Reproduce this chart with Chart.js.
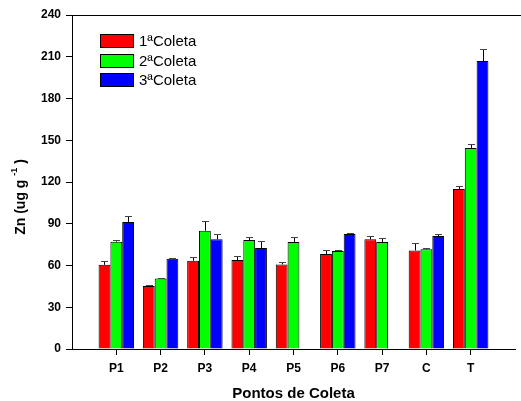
<!DOCTYPE html>
<html>
<head>
<meta charset="utf-8">
<script src="https://cdn.jsdelivr.net/npm/chart.js@4/dist/chart.umd.min.js"></script>
<style>
  html, body { margin: 0; padding: 0; background: #fff; }
  canvas { display: block; }
</style>
</head>
<body>
<canvas id="c" width="521" height="401"></canvas>
<script>
// Sampling points and the three collection campaigns (Zn, ug/g)
const categories = ['P1', 'P2', 'P3', 'P4', 'P5', 'P6', 'P7', 'C', 'T'];
const seriesNames = ['1ªColeta', '2ªColeta', '3ªColeta'];
const coleta1 = [60.5, 45.3, 63.4, 64.0, 60.8, 68.3, 78.8, 70.8, 115.0];
const coleta2 = [77.1, 50.7, 85.0, 78.3, 76.9, 70.4, 76.9, 71.6, 144.5];
const coleta3 = [91.3, 64.9, 78.8, 72.6, null, 82.6, null, 81.2, 206.9];
// Standard deviations (upper error bars)
const erro1 = [2.9, 0.7, 2.4, 2.9, 1.7, 2.6, 2.4, 5.3, 2.2];
const erro2 = [1.5, 0.5, 6.7, 2.2, 3.3, 1.0, 2.9, 1.0, 2.9];
const erro3 = [4.3, 0.4, 3.9, 5.0, null, 0.7, null, 1.4, 8.6];
const yTicks = [0, 30, 60, 90, 120, 150, 180, 210, 240];
const colors = ['#ff0000', '#00ff00', '#0000ff'];

const FONT = '"Liberation Sans", Arial, sans-serif';

// Empty slots at both ends so the groups sit on whole-number positions 1..9
const labels = [''].concat(categories, ['']);
const pad = a => [null].concat(a, [null]);

const values = [coleta1, coleta2, coleta3];
const errors = [erro1, erro2, erro3];

const datasets = values.map((v, i) => ({
  label: seriesNames[i],
  data: pad(v),
  errors: pad(errors[i]),
  backgroundColor: colors[i],
  borderColor: '#000',
  borderWidth: 1,
  borderSkipped: 'bottom',
  categoryPercentage: 0.8,
  barPercentage: 1.0
}));

// Upper error bars with small caps
const errorBars = {
  id: 'errorBars',
  afterDatasetsDraw(chart) {
    const ctx = chart.ctx;
    const y = chart.scales.y;
    chart.data.datasets.forEach((ds, di) => {
      const meta = chart.getDatasetMeta(di);
      meta.data.forEach((bar, i) => {
        const v = ds.data[i], e = ds.errors[i];
        if (v == null || e == null) return;
        const x = Math.round(bar.x) + 0.5;
        const y0 = y.getPixelForValue(v);
        const y1 = Math.round(y.getPixelForValue(v + e)) + 0.5;
        ctx.save();
        ctx.strokeStyle = '#000';
        ctx.lineWidth = 1;
        ctx.beginPath();
        ctx.moveTo(x, y0);
        ctx.lineTo(x, y1);
        ctx.stroke();
        ctx.strokeStyle = '#444';
        ctx.beginPath();
        ctx.moveTo(x - 3.5, y1);
        ctx.lineTo(x + 3.5, y1);
        ctx.stroke();
        ctx.restore();
      });
    });
  }
};

// Frame top line, axis titles and the legend box
const decorations = {
  id: 'decorations',
  afterDraw(chart) {
    const ctx = chart.ctx;
    const a = chart.chartArea;
    ctx.save();
    // top frame line
    ctx.strokeStyle = '#000';
    ctx.lineWidth = 1;
    ctx.beginPath();
    ctx.moveTo(a.left, Math.round(a.top) + 0.5);
    ctx.lineTo(chart.width, Math.round(a.top) + 0.5);
    ctx.stroke();

    // x title
    ctx.fillStyle = '#000';
    ctx.font = 'bold 15px ' + FONT;
    ctx.textAlign = 'center';
    ctx.textBaseline = 'alphabetic';
    ctx.fillText('Pontos de Coleta', (a.left + a.right) / 2, 398);

    // y title with superscript
    ctx.save();
    ctx.translate(25, 197);
    ctx.rotate(-Math.PI / 2);
    const main = 'Zn (ug g ';
    const sup = '-1';
    const tail = ' )';
    ctx.font = 'bold 14px ' + FONT;
    const wMain = ctx.measureText(main).width;
    const wTail = ctx.measureText(tail).width;
    ctx.font = 'bold 9px ' + FONT;
    const wSup = ctx.measureText(sup).width;
    let x = -(wMain + wSup + wTail) / 2;
    ctx.textAlign = 'left';
    ctx.font = 'bold 14px ' + FONT;
    ctx.fillText(main, x, 0);
    x += wMain;
    ctx.font = 'bold 9px ' + FONT;
    ctx.fillText(sup, x, -8);
    x += wSup;
    ctx.font = 'bold 14px ' + FONT;
    ctx.fillText(tail, x, 0);
    ctx.restore();

    // legend
    ctx.font = '15px ' + FONT;
    ctx.textAlign = 'left';
    ctx.textBaseline = 'middle';
    const rows = [41, 61, 80];
    chart.data.datasets.forEach((ds, i) => {
      const yc = rows[i];
      ctx.fillStyle = ds.backgroundColor;
      ctx.fillRect(100, yc - 7, 34, 14);
      ctx.strokeStyle = '#000';
      ctx.strokeRect(100.5, yc - 6.5, 33, 13);
      ctx.fillStyle = '#000';
      ctx.fillText(ds.label, 139, yc + 1);
    });
    ctx.restore();
  }
};

new Chart(document.getElementById('c'), {
  type: 'bar',
  data: { labels, datasets },
  plugins: [errorBars, decorations],
  options: {
    responsive: false,
    animation: false,
    devicePixelRatio: 1,
    layout: { padding: { top: 15, right: 0, left: 0, bottom: 0 } },
    plugins: { legend: { display: false }, tooltip: { enabled: false } },
    scales: {
      x: {
        offset: false,
        afterFit(s) { s.height = 52; },
        grid: {
          display: true,
          offset: false,
          drawOnChartArea: false,
          tickLength: 6,
          tickColor: c => (c.index === 0 || c.index === labels.length - 1) ? 'rgba(0,0,0,0)' : '#000'
        },
        border: { display: true, color: '#000', width: 1 },
        ticks: {
          autoSkip: false,
          maxRotation: 0,
          padding: 6,
          color: '#000',
          font: { family: FONT, size: 12, weight: 'bold' }
        }
      },
      y: {
        min: 0,
        max: 240,
        afterFit(s) { s.width = 72; },
        afterBuildTicks(s) { s.ticks = yTicks.map(v => ({ value: v })); },
        grid: { display: true, drawOnChartArea: false, tickLength: 6, tickColor: '#000' },
        border: { display: true, color: '#000', width: 1 },
        ticks: {
          padding: 5,
          color: '#000',
          font: { family: FONT, size: 12, weight: 'bold' }
        }
      }
    }
  }
});
</script>
</body>
</html>
